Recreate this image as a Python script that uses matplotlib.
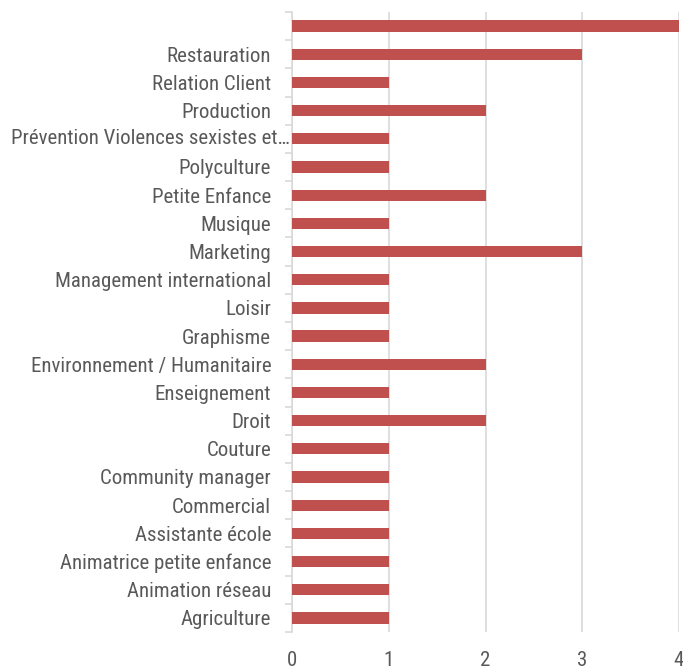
import numpy as np
import matplotlib.pyplot as plt
from matplotlib.ticker import FixedLocator

categories = ["", "Restauration", "Relation Client", "Production",
              "Prévention Violences sexistes et…", "Polyculture", "Petite Enfance",
              "Musique", "Marketing", "Management international", "Loisir",
              "Graphisme", "Environnement / Humanitaire", "Enseignement", "Droit",
              "Couture", "Community manager", "Commercial", "Assistante école",
              "Animatrice petite enfance", "Animation réseau", "Agriculture"]
values = [4, 3, 1, 2, 1, 1, 2, 1, 3, 1, 1, 1, 2, 1, 2, 1, 1, 1, 1, 1, 1, 1]
xticks = [0, 1, 2, 3, 4]

plt.rcParams['font.family'] = ['Roboto Condensed', 'Liberation Sans', 'DejaVu Sans']

fig = plt.figure(figsize=(6.83, 6.69), dpi=100)
ax = fig.add_axes([292/683, 1 - 632/669, 387/683, 620/669])

n = len(categories)
y = np.arange(n)[::-1]
ax.barh(y, values, height=0.4, color='#C0504D', zorder=3)

ax.set_xlim(0, 4)
ax.set_ylim(-0.5, n - 0.5)
ax.set_xticks(xticks)
ax.set_xticklabels([str(v) for v in xticks])
ax.grid(axis='x', color='#D9D9D9', linewidth=1.2, zorder=0)

ax.set_yticks(y)
# the long truncated label overflows past the others, drawn on its own below
long_idx = categories.index("Prévention Violences sexistes et…")
labels = [c if i != long_idx else "" for i, c in enumerate(categories)]
ax.set_yticklabels(labels)
ax.yaxis.set_minor_locator(FixedLocator(np.arange(-0.5, n, 1.0)))
ax.tick_params(axis='y', which='major', length=0, pad=15, labelsize=15, labelcolor='#595959')
ax.tick_params(axis='y', which='minor', length=5, color='#D9D9D9', width=1.2)
ax.tick_params(axis='x', length=0, pad=14, labelsize=15, labelcolor='#595959')

ax.text(-2 / 387, y[long_idx], categories[long_idx], transform=ax.get_yaxis_transform(),
        ha='right', va='center', fontsize=15, color='#595959')

for s in ['top', 'right', 'bottom']:
    ax.spines[s].set_visible(False)
ax.spines['left'].set_color('#D9D9D9')
ax.spines['left'].set_linewidth(1.2)

fig.savefig('out.png', dpi=100)
